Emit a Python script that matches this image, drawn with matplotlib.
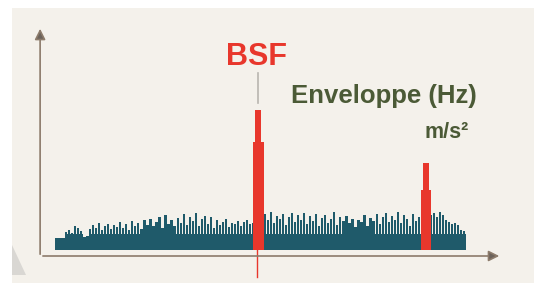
import numpy as np
import matplotlib
matplotlib.use("Agg")
import matplotlib.pyplot as plt
from matplotlib.patches import Rectangle, Polygon

# envelope spectrum, amplitude in m/s^2 per frequency bin
noise = [0.12, 0.12, 0.12, 0.18, 0.20, 0.17, 0.24, 0.22, 0.19, 0.13,
         0.14, 0.21, 0.25, 0.22, 0.27, 0.20, 0.24, 0.26, 0.21, 0.25,
         0.23, 0.28, 0.22, 0.26, 0.20, 0.29, 0.24, 0.27, 0.21, 0.30,
         0.25, 0.31, 0.24, 0.28, 0.33, 0.22, 0.35, 0.26, 0.30, 0.24,
         0.32, 0.27, 0.36, 0.25, 0.33, 0.29, 0.37, 0.24, 0.31, 0.34,
         0.26, 0.33, 0.22, 0.30, 0.25, 0.28, 0.31, 0.23, 0.27, 0.26,
         0.29, 0.24, 0.28, 0.30, 0.26, 0.27, 0.29, 0.30, 0.31, 0.36,
         0.30, 0.38, 0.27, 0.34, 0.31, 0.36, 0.25, 0.33, 0.37, 0.28,
         0.35, 0.30, 0.37, 0.26, 0.34, 0.29, 0.36, 0.24, 0.32, 0.35,
         0.27, 0.31, 0.38, 0.25, 0.33, 0.29, 0.34, 0.27, 0.31, 0.23,
         0.30, 0.28, 0.35, 0.24, 0.32, 0.29, 0.36, 0.26, 0.33, 0.37,
         0.28, 0.34, 0.30, 0.38, 0.27, 0.35, 0.31, 0.24, 0.36, 0.29,
         0.33, 0.30, 0.32, 0.34, 0.35, 0.37, 0.33, 0.38, 0.35, 0.30,
         0.28, 0.26, 0.27, 0.25, 0.20, 0.19]
noise_floor = 0.16

peak_freq = [66.7, 122.4]        # BSF and its harmonic
peak_top = [1.40, 0.87]
peak_shoulder = [1.08, 0.60]

TEAL = '#1f5a6a'
RED = '#e8372c'
GREEN = '#4b5a36'
AXIS = '#8c7b6b'

fig = plt.figure(figsize=(5.34, 2.87), dpi=100)
fig.patch.set_facecolor('white')

# paper background + grey corner of the scan
bg = fig.add_axes([0, 0, 1, 1], zorder=0)
bg.set_axis_off()
bg.set_xlim(0, 534)
bg.set_ylim(287, 0)
bg.add_patch(Rectangle((12, 8), 522, 275, facecolor='#f4f1eb', edgecolor='none'))
bg.add_patch(Polygon([(12, 245), (12, 275), (26, 275)], closed=True,
                     facecolor='#d9d7d3', edgecolor='none'))

ax = fig.add_axes([0, 0, 1, 1], zorder=1)
ax.set_axis_off()
# 1 bin ~ 3 px, 1 m/s^2 ~ 100 px
ax.set_xlim(-57 / 3.015, (534 - 57) / 3.015)
ax.set_ylim(-0.37, 2.50)

x = np.arange(len(noise))
floor = np.minimum(noise, noise_floor)
ax.bar(x, floor, width=1.0, color=TEAL, linewidth=0, zorder=2)
ax.bar(x, noise, width=0.72, color=TEAL, linewidth=0, zorder=2)

for f, top, sh in zip(peak_freq, peak_top, peak_shoulder):
    ax.bar(f, sh, width=3.6, color=RED, linewidth=0, zorder=3)
    ax.bar(f, top, width=1.8, color=RED, linewidth=0, zorder=3)

# marker line under the BSF peak and its faint trace above
ax.plot([peak_freq[0] - 0.2] * 2, [0, -0.27], color=RED, lw=1.0, zorder=3)
ax.plot([peak_freq[0]] * 2, [1.47, 1.77], color='#b9b6b0', lw=1.2, zorder=3)

# axes arrows
ax.annotate('', xy=(-5.6, 2.24), xytext=(-5.6, -0.07),
            arrowprops=dict(arrowstyle='-|>', color=AXIS, lw=1.2,
                            mutation_scale=16, fc='#6b625a', ec=AXIS))
ax.annotate('', xy=(147.6, -0.06), xytext=(-5.6, -0.06),
            arrowprops=dict(arrowstyle='-|>', color=AXIS, lw=1.2,
                            mutation_scale=16, fc='#6b625a', ec=AXIS))

ax.text(peak_freq[0] - 0.6, 1.85, 'BSF', color=RED, fontsize=22,
        fontweight='bold', family='Liberation Sans', ha='center',
        va='baseline', zorder=4)
ax.text(139.3, 1.47, 'Enveloppe (Hz)', color=GREEN, fontsize=18.5,
        fontweight='bold', family='Liberation Sans', ha='right',
        va='baseline', zorder=4)
ax.text(136.5, 1.12, 'm/s²', color=GREEN, fontsize=15.5,
        fontweight='bold', family='Liberation Sans', ha='right',
        va='baseline', zorder=4)

fig.savefig('out.png', dpi=100, facecolor=fig.get_facecolor())
